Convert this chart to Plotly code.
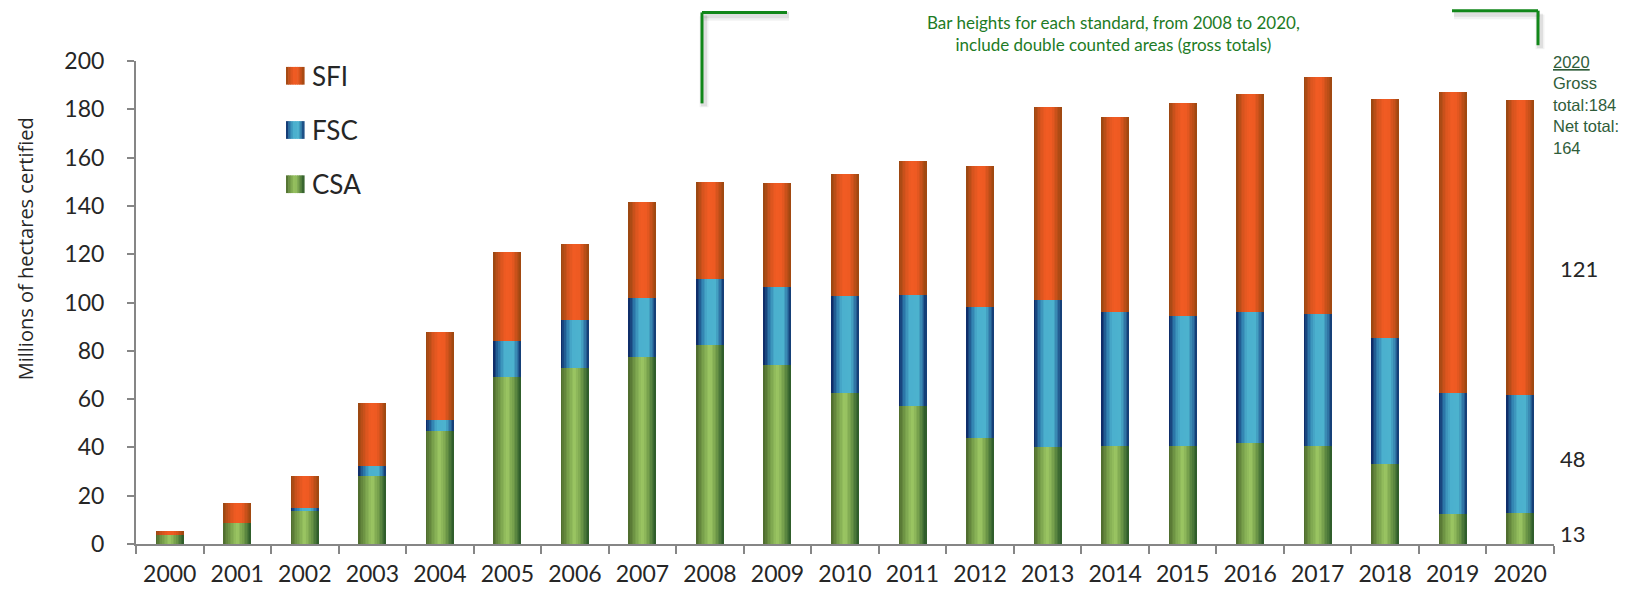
import plotly.graph_objects as go

# ---------------- data ----------------
years = ["2000", "2001", "2002", "2003", "2004", "2005", "2006", "2007", "2008", "2009", "2010",
         "2011", "2012", "2013", "2014", "2015", "2016", "2017", "2018", "2019", "2020"]
csa = [3.7, 8.6, 13.8, 28.0, 47.0, 69.0, 73.0, 77.4, 82.4, 74.3, 62.5, 57.0, 44.0, 40.0, 40.6,
       40.6, 42.0, 40.4, 33.0, 12.5, 13.0]
fsc = [0.0, 0.0, 1.3, 4.1, 4.3, 15.0, 19.7, 24.5, 27.3, 32.1, 40.2, 46.0, 54.0, 61.0, 55.4,
       53.8, 54.0, 54.9, 52.5, 50.0, 48.5]
sfi = [1.5, 8.4, 12.9, 26.4, 36.3, 37.0, 31.7, 39.6, 40.3, 43.2, 50.7, 55.5, 58.4, 80.0, 81.0,
       88.3, 90.4, 98.0, 98.9, 124.7, 122.5]
series_names = ["SFI", "FSC", "CSA"]
side_labels = ["121", "48", "13"]
note_2020 = ["2020", "Gross", "total:184", "Net total:", "164"]
top_note = ["Bar heights for each standard, from 2008 to 2020,",
            "include double counted areas (gross totals)"]
y_title = "Millions of hectares certified"

# ---------------- styling ----------------
grad = {
    "SFI": [(0.0, (150, 70, 16)), (0.25, (215, 84, 30)), (0.45, (241, 91, 35)),
            (0.65, (238, 90, 34)), (0.85, (190, 78, 24)), (1.0, (155, 72, 16))],
    "FSC": [(0.0, (10, 34, 96)), (0.2, (45, 120, 170)), (0.4, (75, 176, 206)),
            (0.7, (76, 178, 206)), (0.88, (45, 110, 160)), (1.0, (14, 50, 108))],
    "CSA": [(0.0, (75, 104, 44)), (0.25, (120, 160, 75)), (0.5, (157, 200, 100)),
            (0.7, (118, 160, 76)), (0.88, (70, 115, 55)), (1.0, (42, 88, 40))],
}


def gcol(name, t):
    st = grad[name]
    for (t0, c0), (t1, c1) in zip(st[:-1], st[1:]):
        if t <= t1:
            f = (t - t0) / (t1 - t0) if t1 > t0 else 0
            c = [round(a + (b - a) * f) for a, b in zip(c0, c1)]
            return "rgb(%d,%d,%d)" % tuple(c)
    return "rgb(%d,%d,%d)" % st[-1][1]


# the page body has an 8px margin, so the figure is drawn 8px in from the window edge
OFF = 8
FW, FH = 1638 - OFF, 599 - OFF
# plot area in window pixels
PL, PR, PT, PB = 136, 1554, 61, 551


def xp(px):
    return (px - PL) / (PR - PL)


def yp(py):
    return (PB - py) / (PB - PT)


fig = go.Figure()

bar_w = 0.415
N = 18
sw = bar_w / N
bases = {
    "CSA": [0.0] * len(years),
    "FSC": list(csa),
    "SFI": [a + b for a, b in zip(csa, fsc)],
}
vals = {"CSA": csa, "FSC": fsc, "SFI": sfi}

for name in ["CSA", "FSC", "SFI"]:
    for k in range(N):
        t = (k + 0.5) / N
        w = sw * (1.35 if k < N - 1 else 1.0)
        fig.add_trace(go.Bar(
            x=years, y=vals[name], base=bases[name],
            width=[w] * len(years), offset=-bar_w / 2 + k * sw,
            marker=dict(color=gcol(name, t), line=dict(width=0)),
            showlegend=False, hoverinfo="skip", name=name,
        ))

shapes = []
annotations = []

# legend (custom, gradient squares)
leg_rows = [76, 131, 186]
for name, cy in zip(series_names, leg_rows):
    M = 8
    x0, x1 = 286, 304
    for k in range(M):
        a = x0 + (x1 - x0) * k / M
        b = x0 + (x1 - x0) * (k + 1) / M + 0.6
        shapes.append(dict(type="rect", xref="paper", yref="paper",
                           x0=xp(a), x1=xp(b), y0=yp(cy + 9), y1=yp(cy - 9),
                           fillcolor=gcol(name, (k + 0.5) / M), line=dict(width=0)))
    annotations.append(dict(xref="paper", yref="paper", x=xp(310), y=yp(cy), text=name,
                            showarrow=False, xanchor="left", yanchor="middle",
                            font=dict(family="Lato", size=26, color="#262626")))

# bracket lines with soft shadow
lines = [
    (702, 11.7, 702, 104), (702, 11.7, 787, 11.7),
    (1452, 10, 1538, 10), (1538, 10, 1538, 45),
]
for (ax, ay, bx, by) in lines:
    for wdt, op, dx, dy in [(9, 0.05, 2, 4), (6, 0.08, 2, 3)]:
        shapes.append(dict(type="line", xref="paper", yref="paper",
                           x0=xp(ax + dx), y0=yp(ay + dy), x1=xp(bx + dx), y1=yp(by + dy),
                           line=dict(color="rgba(0,0,0,%g)" % op, width=wdt)))
for (ax, ay, bx, by) in lines:
    shapes.append(dict(type="line", xref="paper", yref="paper",
                       x0=xp(ax), y0=yp(ay), x1=xp(bx), y1=yp(by),
                       line=dict(color="#12871A", width=3)))

# top note
annotations.append(dict(xref="paper", yref="paper", x=xp(1113), y=yp(OFF + 1.5),
                        text="<br>".join(top_note), showarrow=False,
                        xanchor="center", yanchor="top", align="center",
                        font=dict(family="Lato", size=17, color="#1D7B25")))

# 2020 note on right
annotations.append(dict(xref="paper", yref="paper", x=xp(1551), y=yp(51),
                        text="<u>" + note_2020[0] + "</u><br>" + "<br>".join(note_2020[1:]),
                        showarrow=False, xanchor="left", yanchor="top", align="left",
                        font=dict(family="Liberation Sans", size=16.5, color="#2F5D3A")))

# side labels for 2020 components
for lab, yv in zip(side_labels, [113.9, 35.6, 4.4]):
    annotations.append(dict(xref="paper", yref="y", x=xp(1558), y=yv, text=lab,
                            showarrow=False, xanchor="left", yanchor="middle",
                            font=dict(family="Lato", size=22, color="#262626")))

# y-axis title (placed as in the reference, above the axis midpoint)
annotations.append(dict(xref="paper", yref="paper", x=xp(25), y=yp(252), text=y_title,
                        showarrow=False, textangle=-90, xanchor="center", yanchor="middle",
                        font=dict(family="Open Sans", size=20, color="#262626")))

fig.update_layout(
    width=FW, height=FH,
    margin=dict(l=PL - OFF, r=FW - (PR - OFF), t=PT - OFF, b=FH - (PB - OFF), pad=0),
    barmode="overlay",
    bargap=0,
    plot_bgcolor="white", paper_bgcolor="white",
    showlegend=False,
    shapes=shapes, annotations=annotations,
    xaxis=dict(type="category", categoryorder="array", categoryarray=years,
               range=[-0.5, len(years) - 0.5],
               showline=True, linecolor="#868686", linewidth=2,
               ticks="outside", tickson="boundaries", ticklen=8, tickwidth=2,
               tickcolor="#868686", showgrid=False, zeroline=False,
               ticklabelstandoff=8,
               tickfont=dict(family="Lato", size=23, color="#262626")),
    yaxis=dict(range=[0, 200], dtick=20, tick0=0,
               showline=True, linecolor="#868686", linewidth=2,
               ticks="outside", ticklen=7, tickwidth=2, tickcolor="#868686",
               showgrid=False, zeroline=False, ticklabelstandoff=18,
               tickfont=dict(family="Lato", size=23, color="#262626")),
)

fig.write_html("out.html")
